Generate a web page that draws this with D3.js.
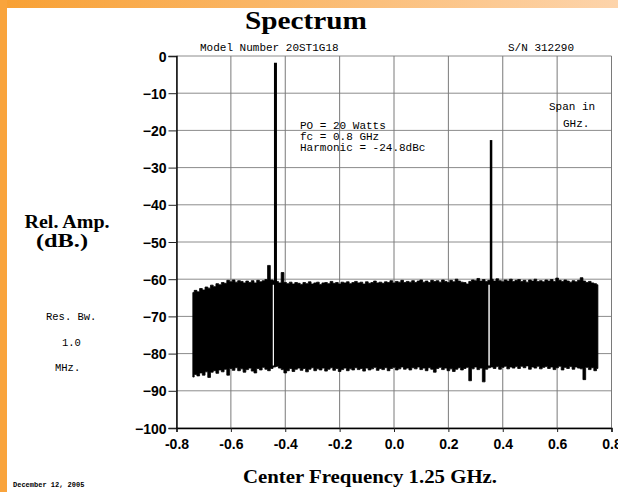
<!DOCTYPE html>
<html><head><meta charset="utf-8">
<script src="https://cdn.jsdelivr.net/npm/d3@7"></script>
<style>html,body{margin:0;padding:0;background:#fff;overflow:hidden}</style>
</head><body>
<svg id="chart" width="618" height="492"></svg>
<script>
// ---- data ----
const title = "Spectrum";
const xTicks = [-0.8, -0.6, -0.4, -0.2, 0.0, 0.2, 0.4, 0.6, 0.8];
const xTickLabels = ["-0.8", "-0.6", "-0.4", "-0.2", "0.0", "0.2", "0.4", "0.6", "0.8"];
const yTicks = [0, -10, -20, -30, -40, -50, -60, -70, -80, -90, -100];
const noiseStart = -0.74, noiseStep = 0.01;
const noiseUpper = [
  -63.6,-63.0,-63.4,-62.5,-62.9,-62.1,-62.4,-61.6,-62.0,-61.2,
  -61.5,-60.9,-61.1,-60.3,-60.7,-60.2,-60.8,-60.4,-60.6,-61.0,
  -60.5,-60.9,-60.4,-61.0,-60.3,-60.7,-60.4,-60.1,-56.3,-60.2,
  -60.4,-60.6,-61.0,-58.2,-60.9,-61.2,-60.8,-61.3,-60.9,-61.1,
  -61.4,-60.9,-61.2,-60.7,-61.3,-61.0,-60.8,-61.4,-61.0,-60.9,
  -61.2,-60.6,-61.1,-60.9,-61.3,-60.8,-61.0,-60.7,-61.2,-60.9,
  -60.6,-61.0,-60.8,-61.3,-60.7,-61.1,-60.9,-60.5,-61.0,-60.8,
  -61.1,-60.7,-60.9,-60.4,-61.0,-60.6,-60.8,-60.3,-60.9,-60.6,
  -60.8,-60.4,-60.9,-60.5,-60.2,-60.8,-60.5,-60.9,-60.3,-60.6,
  -60.4,-60.8,-60.2,-60.6,-60.9,-60.3,-60.7,-60.0,-60.5,-60.8,
  -60.9,-61.3,-60.6,-60.2,-60.4,-59.8,-60.5,-60.1,-60.6,-60.3,
  -60.0,-60.5,-59.9,-60.4,-60.7,-60.2,-60.5,-60.0,-60.6,-60.3,
  -60.1,-60.6,-60.3,-60.8,-60.2,-60.5,-60.0,-60.6,-60.4,-60.7,
  -60.2,-60.5,-60.1,-60.6,-59.7,-60.3,-60.6,-60.2,-60.5,-60.8,
  -60.4,-60.7,-60.3,-59.6,-60.5,-60.9,-60.6,-61.0,-61.2,-61.5
];
const noiseLower = [
  -86.3,-85.6,-86.0,-85.2,-85.8,-84.9,-86.4,-85.0,-84.6,-85.3,
  -84.4,-84.9,-84.2,-85.8,-84.0,-84.5,-83.8,-84.6,-84.1,-85.0,
  -84.3,-83.9,-84.7,-85.2,-84.0,-84.4,-83.7,-84.2,-84.6,-84.0,
  -83.6,-83.4,-83.9,-84.3,-85.2,-84.6,-84.0,-84.8,-84.2,-83.9,
  -84.5,-84.0,-84.9,-84.2,-83.8,-84.6,-84.1,-84.4,-83.9,-84.7,
  -84.2,-83.8,-84.5,-84.0,-84.8,-84.3,-83.9,-84.6,-84.1,-84.4,
  -83.8,-84.3,-84.0,-84.7,-83.9,-84.4,-84.1,-83.7,-84.5,-84.0,
  -84.3,-83.8,-84.6,-84.0,-83.7,-84.4,-84.1,-83.6,-84.2,-83.9,
  -84.4,-83.8,-84.1,-83.6,-84.3,-83.9,-84.6,-83.8,-84.2,-85.0,
  -84.0,-83.7,-84.3,-83.9,-84.6,-84.1,-84.8,-84.2,-83.8,-84.4,
  -84.0,-83.7,-87.3,-84.1,-83.6,-84.3,-83.9,-87.6,-84.2,-83.8,
  -83.6,-84.0,-83.5,-84.2,-83.7,-83.4,-84.1,-83.6,-83.9,-83.5,
  -84.0,-83.4,-83.8,-83.3,-84.2,-83.6,-83.9,-83.4,-84.1,-83.7,
  -83.5,-84.0,-83.6,-84.3,-83.8,-83.4,-84.4,-83.7,-84.0,-83.5,
  -84.2,-83.6,-83.9,-84.1,-87.0,-83.7,-84.3,-83.8,-84.6,-84.0
];
const peakFreq = [-0.436, 0.357];
const peakLevel = [-1.8, -22.6];
const peakBase = [-83.5, -83.5];
const peakWidth = [3, 2.5];
const gapFreq = [-0.443, 0.350];

// ---- chart ----
const svg = d3.select("#chart");
const W = 618, H = 492;
const x = d3.scaleLinear().domain([-0.8, 0.8]).range([176.5, 611.5]);
const y = d3.scaleLinear().domain([-100, 0]).range([428, 56]);

// orange frame
const defs = svg.append("defs");
const grad = defs.append("linearGradient").attr("id", "og").attr("x1", "0").attr("x2", "1");
grad.append("stop").attr("offset", "0").attr("stop-color", "#F8A033");
grad.append("stop").attr("offset", "1").attr("stop-color", "#FDD4AB");
svg.append("rect").attr("x", 0).attr("y", 0).attr("width", W).attr("height", 8).attr("fill", "url(#og)");
svg.append("rect").attr("x", 0).attr("y", 0).attr("width", 7).attr("height", H).attr("fill", "#F9A43C");

// grid
const grid = svg.append("g");
grid.selectAll("line.h").data(yTicks).join("line")
  .attr("x1", x(-0.8)).attr("x2", x(0.8))
  .attr("y1", d => y(d)).attr("y2", d => y(d))
  .attr("stroke", "#8c8c8c").attr("stroke-width", 1);
grid.selectAll("line.v").data(xTicks).join("line")
  .attr("x1", d => x(d)).attr("x2", d => x(d))
  .attr("y1", y(0)).attr("y2", y(-100))
  .attr("stroke", "#7a7a7a").attr("stroke-width", 1);

// noise band
const freq = noiseUpper.map((_, i) => noiseStart + i * noiseStep);
const noise = freq.map((f, i) => ({f, hi: noiseUpper[i], lo: noiseLower[i]}));
svg.append("path").datum(noise)
  .attr("d", d3.area().curve(d3.curveStep).x(d => x(d.f)).y0(d => y(d.lo)).y1(d => y(d.hi)))
  .attr("fill", "#000").attr("stroke", "#000").attr("stroke-width", 0.8);

// gaps beside the carriers
svg.selectAll("line.gap").data(gapFreq).join("line")
  .attr("x1", d => x(d)).attr("x2", d => x(d))
  .attr("y1", y(-61.5)).attr("y2", y(-83.2))
  .attr("stroke", "#fff").attr("stroke-width", 1.6);

// peaks
svg.selectAll("line.peak").data(peakFreq).join("line")
  .attr("x1", d => x(d)).attr("x2", d => x(d))
  .attr("y1", (d, i) => y(peakLevel[i])).attr("y2", (d, i) => y(peakBase[i]))
  .attr("stroke", "#000").attr("stroke-width", (d, i) => peakWidth[i]);

// axes
const yAxis = d3.axisLeft(y).tickValues(yTicks).tickSize(8).tickPadding(2).tickFormat(d3.format("d"));
const gy = svg.append("g").attr("transform", `translate(${x(-0.8)},0)`).call(yAxis);
gy.select(".domain").attr("stroke", "#000").attr("stroke-width", 1.4);
gy.selectAll(".tick line").attr("stroke", "#222").attr("stroke-width", 1);
gy.selectAll("text").attr("font-family", "'Liberation Sans', Arial, sans-serif")
  .attr("font-weight", "bold").attr("font-size", 14).attr("fill", "#000").attr("dy", "0.36em");

const xAxis = d3.axisBottom(x).tickValues(xTicks).tickSize(4).tickPadding(7)
  .tickFormat((d, i) => xTickLabels[i]);
const gx = svg.append("g").attr("transform", `translate(0,${y(-100)})`).call(xAxis);
gx.select(".domain").attr("stroke", "#000").attr("stroke-width", 1.4);
gx.selectAll(".tick line").attr("stroke", "#222");
gx.selectAll("text").attr("font-family", "'Liberation Sans', Arial, sans-serif")
  .attr("font-weight", "bold").attr("font-size", 14).attr("fill", "#000");

// texts
const serif = "'Liberation Serif', 'Times New Roman', serif";
const mono = "'Liberation Mono', 'Courier New', monospace";
function txt(s, tx, ty, opt) {
  const t = svg.append("text").attr("x", tx).attr("y", ty).text(s)
    .attr("font-family", opt.family).attr("font-size", opt.size)
    .attr("font-weight", opt.weight || "normal").attr("fill", "#000")
    .attr("text-anchor", opt.anchor || "start");
  if (opt.len) t.attr("textLength", opt.len).attr("lengthAdjust", "spacingAndGlyphs");
  return t;
}
txt(title, 306, 29, {family: serif, size: 26, weight: "bold", anchor: "middle", len: 122});
txt("Model Number 20ST1G18", 200, 51, {family: mono, size: 11});
txt("S/N 312290", 508, 51, {family: mono, size: 11});
txt("PO = 20 Watts", 300, 129, {family: mono, size: 11});
txt("fc = 0.8 GHz", 300, 140, {family: mono, size: 11});
txt("Harmonic = -24.8dBc", 300, 151, {family: mono, size: 11});
txt("Span in", 549, 110, {family: mono, size: 11});
txt("GHz.", 563, 127, {family: mono, size: 11});
txt("Rel. Amp.", 67, 228, {family: serif, size: 19, weight: "bold", anchor: "middle", len: 85});
txt("(dB.)", 62, 247, {family: serif, size: 19, weight: "bold", anchor: "middle", len: 52});
txt("Res. Bw.", 46, 320, {family: mono, size: 10.5});
txt("1.0", 62, 346, {family: mono, size: 10.5});
txt("MHz.", 55, 371, {family: mono, size: 10.5});
txt("December 12, 2005", 13, 487, {family: mono, size: 7, weight: "bold"});
txt("Center Frequency 1.25 GHz.", 370, 483, {family: serif, size: 18, weight: "bold", anchor: "middle", len: 254});
</script>
</body></html>
